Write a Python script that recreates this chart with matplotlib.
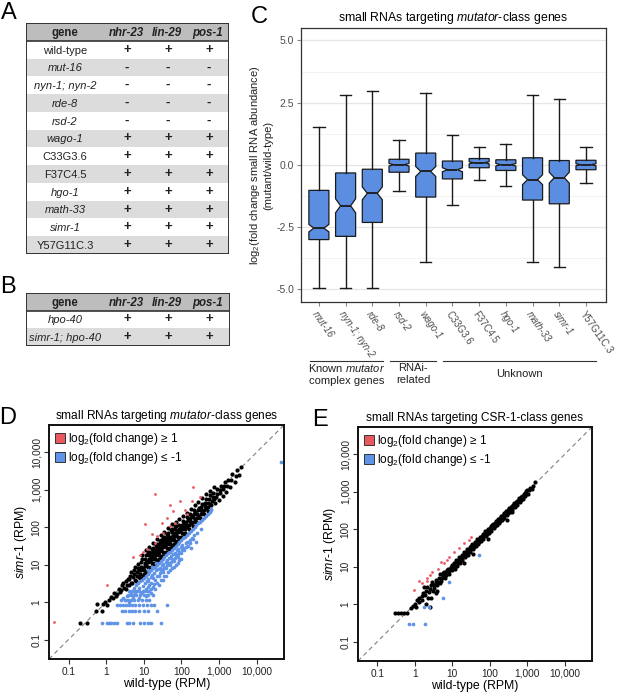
import matplotlib
matplotlib.use("Agg")
import matplotlib.pyplot as plt
from matplotlib.lines import Line2D
from matplotlib.patches import Rectangle

plt.rcParams['font.family'] = ['Liberation Sans', 'DejaVu Sans']
plt.rcParams['mathtext.fontset'] = 'custom'
plt.rcParams['mathtext.rm'] = 'Liberation Sans'
plt.rcParams['mathtext.it'] = 'Liberation Sans:italic'
plt.rcParams['mathtext.default'] = 'regular'

W, H = 617, 695

# ---- tables A and B
table_cols = ["nhr-23", "lin-29", "pos-1"]
table_a_genes = ["wild-type", "mut-16", "nyn-1; nyn-2", "rde-8", "rsd-2", "wago-1",
                 "C33G3.6", "F37C4.5", "hgo-1", "math-33", "simr-1", "Y57G11C.3"]
table_a_italic = [False, True, True, True, True, True, False, False, True, True, True, False]
table_a_calls = ["+", "-", "-", "-", "-", "+", "+", "+", "+", "+", "+", "+"]
table_b_genes = ["hpo-40", "simr-1; hpo-40"]
table_b_italic = [True, True]
table_b_calls = ["+", "+"]

# ---- panel C boxplot stats (log2 fold change)
box_names = ["mut-16", "nyn-1; nyn-2", "rde-8", "rsd-2", "wago-1", "C33G3.6",
             "F37C4.5", "hgo-1", "math-33", "simr-1", "Y57G11C.3"]
box_italic = [True, True, True, True, True, False, False, True, True, True, False]
box_whishi = [1.50, 2.80, 2.95, 1.00, 2.90, 1.20, 0.72, 0.82, 2.80, 2.65, 0.72]
box_q3 = [-1.03, -0.33, -0.18, 0.22, 0.47, 0.15, 0.25, 0.20, 0.28, 0.17, 0.18]
box_med = [-2.55, -1.65, -1.15, 0.00, -0.27, -0.20, 0.08, 0.00, -0.60, -0.52, 0.00]
box_q1 = [-3.01, -2.88, -2.32, -0.30, -1.30, -0.57, -0.12, -0.23, -1.42, -1.57, -0.20]
box_whislo = [-4.95, -4.97, -4.97, -1.05, -3.90, -1.60, -0.60, -0.85, -3.90, -4.10, -0.72]
box_notch = [0.15, 0.28, 0.26, 0.05, 0.20, 0.08, 0.04, 0.05, 0.20, 0.22, 0.04]

# ---- panel D points, log10 (wild-type RPM, simr-1 RPM)
d_black = [(-0.70,-0.55),(-0.52,-0.55),(-0.28,-0.25),(-0.25,-0.06),(-0.12,-0.25),(-0.08,-0.05),(-0.02,0.0),(0.02,-0.07),
    (0.08,0.05),(0.12,0.13),(0.18,0.10),(0.22,0.25),(0.26,0.16),(0.30,0.21),(0.33,0.36),(0.36,0.28),
    (0.40,0.31),(0.42,0.46),(0.45,0.50),(0.47,0.38),(0.52,0.36),(0.53,0.55),(0.55,0.46),(0.58,0.63),(0.60,0.45),
    (0.62,0.61),(0.63,0.71),(0.65,0.52),(0.67,0.81),(0.70,0.50),(0.71,0.66),(0.73,0.76),(0.74,0.86),(0.76,0.60),
    (0.77,0.95),(0.80,0.56),(0.81,0.71),(0.83,0.80),(0.84,0.91),(0.85,1.01),(0.87,0.66),(0.88,0.85),
    (0.90,0.64),(0.91,0.76),(0.92,0.86),(0.93,0.95),(0.94,1.06),(0.95,1.16),(0.97,0.71),(0.98,0.90),
    (1.00,0.75),(1.01,0.86),(1.02,0.96),(1.03,1.05),(1.04,1.16),(1.05,1.26),(1.06,0.81),(1.07,1.00),(1.08,1.11),
    (1.10,0.84),(1.11,0.95),(1.12,1.06),(1.13,1.15),(1.14,1.26),(1.15,1.35),(1.16,0.91),(1.17,1.10),(1.18,1.21),(1.19,1.31),
    (1.20,0.94),(1.21,1.05),(1.22,1.16),(1.23,1.25),(1.24,1.36),(1.25,1.45),(1.26,1.01),(1.27,1.20),(1.28,1.30),(1.29,1.41),
    (1.30,1.04),(1.31,1.15),(1.32,1.26),(1.33,1.35),(1.34,1.46),(1.35,1.55),(1.36,1.11),(1.37,1.30),(1.38,1.40),(1.39,1.51),
    (1.40,1.14),(1.41,1.25),(1.42,1.36),(1.43,1.45),(1.44,1.56),(1.45,1.65),(1.46,1.21),(1.47,1.40),(1.48,1.50),(1.49,1.61),
    (1.50,1.24),(1.51,1.35),(1.52,1.46),(1.53,1.55),(1.54,1.66),(1.55,1.75),(1.56,1.31),(1.57,1.50),(1.58,1.60),(1.59,1.71),
    (1.60,1.34),(1.61,1.45),(1.62,1.56),(1.63,1.65),(1.64,1.76),(1.65,1.85),(1.66,1.41),(1.67,1.60),(1.68,1.70),
    (1.70,1.44),(1.71,1.55),(1.72,1.66),(1.73,1.75),(1.74,1.86),(1.75,1.95),(1.76,1.51),(1.77,1.70),(1.78,1.80),
    (1.80,1.54),(1.81,1.65),(1.82,1.76),(1.83,1.85),(1.84,1.96),(1.85,2.02),(1.86,1.61),(1.87,1.80),(1.88,1.90),
    (1.90,1.64),(1.91,1.75),(1.92,1.86),(1.93,1.95),(1.94,2.06),(1.96,1.71),(1.97,1.90),(1.98,2.00),
    (2.00,1.74),(2.01,1.85),(2.02,1.96),(2.03,2.05),(2.04,2.16),(2.06,1.81),(2.07,2.00),(2.08,2.10),
    (2.10,1.84),(2.11,1.95),(2.12,2.06),(2.13,2.15),(2.14,2.26),(2.16,2.01),(2.17,2.20),
    (2.20,1.94),(2.21,2.05),(2.22,2.16),(2.23,2.25),(2.24,2.36),(2.26,2.11),(2.27,2.30),
    (2.30,2.04),(2.31,2.15),(2.32,2.26),(2.33,2.35),(2.34,2.46),(2.36,2.21),(2.37,2.40),
    (2.40,2.14),(2.41,2.25),(2.42,2.36),(2.43,2.45),(2.45,2.31),(2.46,2.51),
    (2.50,2.24),(2.51,2.35),(2.52,2.46),(2.53,2.55),(2.55,2.41),(2.56,2.61),
    (2.60,2.34),(2.61,2.45),(2.62,2.56),(2.63,2.65),(2.65,2.51),(2.66,2.76),
    (2.70,2.44),(2.71,2.55),(2.72,2.66),(2.73,2.75),(2.75,2.61),(2.76,2.86),
    (2.80,2.58),(2.81,2.70),(2.83,2.80),(2.84,2.91),(2.86,2.75),
    (2.90,2.64),(2.92,2.81),(2.94,2.90),(2.96,3.01),(3.00,2.74),(3.02,2.91),(3.04,3.00),(3.06,3.11),
    (3.10,2.84),(3.12,3.01),(3.14,3.10),(3.16,3.21),(3.20,2.95),(3.22,3.10),(3.25,3.26),
    (3.30,3.08),(3.33,3.25),(3.36,3.41),(3.42,3.20),(3.45,3.36),(3.48,3.52),(3.52,3.40),(3.58,3.62),
    (1.12,1.32),(1.22,1.42),(1.32,1.52),(1.42,1.62),(1.52,1.72),(1.62,1.82),(1.72,1.92),(1.82,2.02),
    (1.28,1.02),(1.38,1.12),(1.48,1.22),(1.58,1.32),(1.68,1.42),(1.78,1.52),(1.88,1.62),(1.98,1.72),
    (0.95,1.25),(1.05,1.38),(1.15,1.48),(1.25,1.58),(1.35,1.68),(1.45,1.78),(1.55,1.88),(1.65,1.98),
    (1.75,2.08),(1.85,2.15),(1.95,2.22),(2.05,2.30),(2.15,2.38),(2.25,2.48),(2.35,2.58),(2.45,2.68),
    (2.55,2.78),(2.65,2.88),(2.75,2.98),(2.88,3.08)]
d_red = [(-1.40,-0.54),(0.03,0.46),(0.72,1.21),(0.90,1.25),(0.99,1.35),(1.03,2.09),(1.08,1.41),(1.21,1.81),
    (1.30,2.90),(1.30,1.58),(1.34,1.76),(1.48,2.10),(1.52,1.85),(1.61,2.25),(1.70,2.60),(1.70,2.03),
    (1.79,2.43),(1.83,2.11),(1.96,2.69),(2.10,2.45),(2.14,2.34),(2.27,2.69),(2.30,3.07),(2.49,2.82)]
d_blue = [(0.45,0.10),(0.50,0.05),(0.55,0.15),(0.60,0.20),(0.62,0.0),(0.65,0.28),(0.70,0.30),(0.72,0.12),
    (0.75,0.38),(0.78,0.22),(0.80,0.45),(0.82,0.30),(0.85,0.50),(0.87,0.10),(0.88,0.38),(0.90,0.55),(0.92,0.25),
    (0.95,0.60),(0.97,0.42),(1.00,0.65),(1.00,0.30),(1.02,0.50),(1.05,0.70),(1.05,0.15),(1.08,0.55),(1.10,0.75),
    (1.10,0.40),(1.12,0.62),(1.15,0.80),(1.15,0.30),(1.18,0.68),(1.20,0.85),(1.20,0.50),(1.22,0.72),(1.25,0.90),
    (1.25,0.40),(1.28,0.78),(1.30,0.95),(1.30,0.60),(1.32,0.85),(1.35,1.00),(1.35,0.50),(1.38,0.88),(1.40,1.05),
    (1.40,0.70),(1.42,0.92),(1.45,1.10),(1.45,0.60),(1.48,0.98),(1.50,1.15),(1.50,0.80),(1.52,1.02),(1.55,1.20),
    (1.55,0.70),(1.58,1.08),(1.60,1.25),(1.60,0.90),(1.62,1.12),(1.65,1.30),(1.65,0.80),(1.68,1.18),(1.70,1.35),
    (1.70,1.00),(1.72,1.22),(1.75,1.40),(1.75,0.90),(1.78,1.28),(1.80,1.45),(1.80,1.10),(1.82,1.32),(1.85,1.50),
    (1.85,1.00),(1.88,1.38),(1.90,1.55),(1.90,1.20),(1.92,1.42),(1.95,1.60),(1.95,1.12),(1.98,1.48),(2.00,1.65),
    (2.00,1.30),(2.03,1.52),(2.05,1.70),(2.08,1.40),(2.10,1.75),(2.12,1.58),(2.15,1.80),(2.18,1.50),(2.20,1.85),
    (2.22,1.65),(2.25,1.90),(2.28,1.72),(2.30,1.95),(2.33,1.80),(2.35,2.00),(2.40,2.05),(2.42,1.85),(2.45,2.10),
    (2.50,2.15),(2.52,1.95),(2.55,2.20),(2.60,2.25),(2.65,2.30),(2.70,2.35),(2.75,2.40),(2.78,2.45),(2.80,2.48),
    (2.40,1.60),(2.25,1.45),(1.63,-0.07),(1.10,0.55),(1.15,0.45),(1.25,0.65),(1.35,0.70),(1.45,0.85),(1.30,0.35),
    (1.20,0.25),(1.40,0.45),(1.05,0.35),(0.95,0.28),(1.55,0.95),(1.65,1.05),(1.75,1.15),(1.85,1.25),(1.95,1.35),
    (2.05,1.45),(2.15,1.60),(1.50,0.60),(1.60,0.70),(1.70,0.85),(1.80,0.95),(1.90,1.05),(2.00,1.15),
    (1.12,0.85),(1.22,0.95),(1.32,1.05),(1.42,0.78),(1.52,0.88),(1.62,0.98),(1.72,1.08),(1.82,1.18),
    (1.92,1.28),(2.02,1.38),(2.12,1.48),(2.22,1.58),(2.32,1.68),(1.08,0.20),(1.18,0.35),(1.28,0.48),
    (-0.11,-0.55),(0.02,-0.55),(0.08,-0.55),(0.14,-0.55),(0.20,-0.55),(0.28,-0.55),(0.55,-0.55),(0.62,-0.55),
    (0.72,-0.55),(0.90,-0.55),(1.00,-0.55),(1.10,-0.55),(1.20,-0.55),(1.45,-0.55),
    (0.42,-0.25),(0.50,-0.25),(0.60,-0.25),(0.68,-0.25),(0.78,-0.25),(0.88,-0.25),(1.00,-0.25),(1.12,-0.25),(1.35,-0.25),
    (0.29,-0.07),(0.36,-0.07),(0.45,-0.07),(0.52,-0.07),(0.60,-0.07),(0.70,-0.07),(0.78,-0.07),(0.88,-0.07),
    (0.97,-0.07),(1.08,-0.07),(1.18,-0.07),(1.27,-0.07),
    (0.40,0.06),(0.50,0.06),(0.58,0.06),(0.66,0.06),(0.75,0.06),(0.85,0.06),(0.95,0.06),(1.05,0.06),(1.15,0.06),
    (0.58,0.19),(0.65,0.19),(0.72,0.19),(0.80,0.19),(0.90,0.19),(1.00,0.19),(1.10,0.19),(1.25,0.19),
    (0.62,0.30),(0.70,0.30),(0.78,0.30),(0.88,0.30),(0.98,0.30),(1.08,0.30),(4.66,3.75)]

# ---- panel E points, log10 (wild-type RPM, simr-1 RPM)
e_black = [(-0.54,-0.23),(-0.45,-0.25),(-0.38,-0.25),(-0.30,-0.25),(-0.22,-0.25),(-0.10,-0.10),(-0.05,-0.04),
    (0.00,0.00),(0.02,-0.07),(0.05,0.10),(0.10,0.05),(0.12,0.15),(0.18,0.10),(0.20,0.22),(0.22,0.30),(0.25,0.45),
    (0.28,0.25),(0.30,0.36),(0.32,0.45),(0.35,0.15),(0.38,0.32),(0.40,0.40),(0.42,0.50),(0.45,0.58),(0.47,0.35),
    (0.50,0.42),(0.52,0.50),(0.55,0.56),(0.56,0.65),(0.58,0.35),(0.60,0.50),(0.62,0.60),(0.64,0.70),(0.66,0.55),
    (0.68,0.80),(0.70,0.62),(0.72,0.70),(0.74,0.76),(0.76,0.82),(0.78,0.86),(0.80,0.70),(0.82,0.78),(0.84,0.86),
    (0.86,0.90),(0.88,0.95),(0.90,0.80),(0.92,0.88),(0.94,0.95),(0.96,1.00),(0.98,1.05),(0.30,0.00),(0.42,0.15),
    (0.55,0.30),(0.40,-0.07),
    (1.00,0.90),(1.01,0.97),(1.03,1.04),(1.04,1.10),(1.06,0.95),(1.08,1.03),(1.09,1.12),(1.11,1.18),(1.13,1.02),
    (1.15,1.10),(1.16,1.19),(1.18,1.25),(1.20,1.10),(1.22,1.18),(1.23,1.26),(1.25,1.32),(1.27,1.17),(1.29,1.25),
    (1.30,1.33),(1.32,1.39),(1.34,1.25),(1.36,1.32),(1.37,1.40),(1.39,1.46),(1.41,1.32),(1.43,1.39),(1.44,1.47),
    (1.46,1.53),(1.48,1.39),(1.50,1.46),(1.51,1.54),(1.53,1.60),(1.55,1.46),(1.57,1.53),(1.58,1.61),(1.60,1.67),
    (1.62,1.54),(1.64,1.60),(1.65,1.68),(1.67,1.73),(1.69,1.61),(1.71,1.67),(1.72,1.75),(1.74,1.80),(1.76,1.68),
    (1.78,1.74),(1.79,1.82),(1.81,1.87),(1.83,1.75),(1.85,1.81),(1.86,1.89),(1.88,1.94),(1.90,1.82),(1.92,1.88),
    (1.93,1.96),(1.95,2.01),(1.97,1.89),(1.99,1.95),(2.00,2.03),(2.02,2.08),(2.04,1.96),(2.06,2.02),(2.07,2.10),
    (2.09,2.14),(2.11,2.03),(2.13,2.09),(2.14,2.17),(2.16,2.21),(2.18,2.10),(2.20,2.16),(2.21,2.24),(2.23,2.28),
    (2.25,2.17),(2.27,2.23),(2.28,2.31),(2.30,2.35),(2.32,2.24),(2.34,2.30),(2.35,2.38),(2.37,2.42),(2.39,2.31),
    (2.41,2.37),(2.42,2.45),(2.44,2.49),(2.46,2.38),(2.48,2.44),(2.49,2.52),(2.51,2.56),(2.53,2.45),(2.55,2.51),
    (2.56,2.59),(2.58,2.62),(2.60,2.52),(2.62,2.58),(2.63,2.66),(2.65,2.69),(2.67,2.59),(2.69,2.65),(2.70,2.73),
    (2.72,2.76),(2.74,2.66),(2.76,2.72),(2.77,2.80),(2.79,2.83),(2.81,2.73),(2.83,2.79),(2.84,2.87),(2.86,2.90),
    (2.88,2.80),(2.90,2.86),(2.91,2.94),(2.93,2.97),(2.95,2.88),(2.97,2.93),(2.98,3.01),(3.00,3.04),(3.02,2.95),
    (3.05,3.05),(3.08,3.10),(3.12,3.08),(3.15,3.15),(3.20,3.26),(1.95,1.75),(1.55,1.35),(1.30,1.10),(2.60,2.45),(2.45,2.25)]
e_red = [(-0.02,0.37),(0.11,0.63),(0.20,0.55),(0.32,0.70),(0.33,0.63),(0.40,0.78),(0.45,0.85),(0.62,0.95),
    (0.69,1.12),(0.78,1.10),(0.85,1.18),(0.92,1.25),(1.05,1.38),(1.18,1.50),(1.31,1.62),(1.45,1.72),(1.50,1.80)]
e_blue = [(-0.17,-0.54),(-0.04,-0.54),(0.26,-0.54),(0.25,-0.07),(0.38,-0.07),(0.75,0.17),(0.91,0.58),(1.70,1.32)]

log_ticks = [0.1, 1, 10, 100, 1000, 10000]
log_tick_labels = ["0.1", "1", "10", "100", "1,000", "10,000"]

red = '#e8585e'
blue = '#5f93e8'
box_blue = '#5b8ee0'
grey_txt = '#4d4d4d'


def px_rect(l, t, r, b):
    return [l / W, 1 - b / H, (r - l) / W, (b - t) / H]


fig = plt.figure(figsize=(W / 100, H / 100), dpi=100)


def draw_table(box, genes, italic, calls):
    l, t, r, b = box
    ax = fig.add_axes(px_rect(l, t, r, b))
    n = len(genes) + 1
    ax.set_xlim(l, r)
    ax.set_ylim(n, 0)
    ax.axis('off')
    ax.add_patch(Rectangle((l, 0), r - l, 1, fc='#bdbdbd', ec='none'))
    for i in range(len(genes)):
        if i % 2 == 1:
            ax.add_patch(Rectangle((l, i + 1), r - l, 1, fc='#dcdcdc', ec='none'))
    ax.add_patch(Rectangle((l, 0), r - l, n, fc='none', ec='#333333', lw=1.4))
    ax.plot([l, r], [1, 1], color='#333333', lw=1.2)
    col_x = [65, 126, 167, 208]
    ax.text(col_x[0], 0.55, "gene", ha='center', va='center', fontsize=8.3, fontweight='bold', color='#222222')
    for cx, name in zip(col_x[1:], table_cols):
        ax.text(cx, 0.55, name, ha='center', va='center', fontsize=8.3, fontweight='bold',
                fontstyle='italic', color='#222222')
    for i, g in enumerate(genes):
        ax.text(col_x[0], i + 1.55, g, ha='center', va='center', fontsize=8,
                fontstyle='italic' if italic[i] else 'normal', color='#222222')
        for cx in col_x[1:]:
            ax.text(cx + 1, i + 1.5, calls[i], ha='center', va='center', fontsize=9.5,
                    fontweight='bold', color='#222222')


draw_table((26, 23, 229, 254), table_a_genes, table_a_italic, table_a_calls)
draw_table((26, 293, 230, 346), table_b_genes, table_b_italic, table_b_calls)

# ---- panel C
axc = fig.add_axes(px_rect(301, 28, 606, 302))
stats = []
for i in range(len(box_names)):
    stats.append(dict(med=box_med[i], q1=box_q1[i], q3=box_q3[i], whislo=box_whislo[i],
                      whishi=box_whishi[i], cilo=box_med[i] - box_notch[i],
                      cihi=box_med[i] + box_notch[i], fliers=[]))
positions = list(range(1, len(box_names) + 1))
bp = axc.bxp(stats, positions=positions, widths=0.75, shownotches=True, patch_artist=True,
             showfliers=False, capwidths=0.42,
             boxprops=dict(facecolor=box_blue, edgecolor='#1a1a1a', lw=0.9),
             medianprops=dict(color='#1a1a1a', lw=1.3),
             whiskerprops=dict(color='#1a1a1a', lw=1.0),
             capprops=dict(color='#1a1a1a', lw=1.0))
axc.set_xlim(0.33, len(box_names) + 0.75)
axc.set_ylim(-5.52, 5.5)
axc.set_yticks([-5, -2.5, 0, 2.5, 5])
axc.set_yticklabels(["-5.0", "-2.5", "0.0", "2.5", "5.0"], color=grey_txt, fontsize=7.5)
axc.set_yticks([-3.75, -1.25, 1.25, 3.75], minor=True)
axc.grid(True, which='major', axis='y', color='#e6e6e6', lw=0.9)
axc.grid(True, which='minor', axis='y', color='#f0f0f0', lw=0.6)
axc.set_axisbelow(True)
axc.tick_params(axis='both', which='major', color='#888888', length=3)
axc.tick_params(axis='y', which='minor', length=0)
axc.tick_params(axis='y', pad=2)
axc.set_xticks(positions)
axc.set_xticklabels(box_names, rotation=-55, ha='left', va='top', rotation_mode='anchor',
                    color=grey_txt, fontsize=6.9)
for lab, it in zip(axc.get_xticklabels(), box_italic):
    lab.set_fontstyle('italic' if it else 'normal')
axc.tick_params(axis='x', pad=2)
for s in axc.spines.values():
    s.set_color('#333333')
    s.set_linewidth(0.9)
axc.set_ylabel("log$_2$(fold change small RNA abundance)\n(mutant/wild-type)", fontsize=8,
               color='#222222', labelpad=2, linespacing=1.1)
axc.set_title("small RNAs targeting $\\mathit{mutator}$-class genes", fontsize=8.8, pad=5)

# group brackets under C
groups = [(310, 383, "Known $\\mathit{mutator}$\ncomplex genes"), (390, 436, "RNAi-\nrelated"),
          (443, 596, "Unknown")]
for x0, x1, txt in groups:
    fig.add_artist(Line2D([x0 / W, x1 / W], [1 - 361 / H, 1 - 361 / H], color='#333333', lw=0.8))
    fig.text((x0 + x1) / 2 / W, 1 - 374 / H, txt, ha='center', va='center', fontsize=8,
             linespacing=1.3, color='#222222')


# ---- panels D and E
def scatter_panel(box, title, black, reds, blues):
    ax = fig.add_axes(px_rect(*box))
    ax.set_xscale('log')
    ax.set_yscale('log')
    lo, hi = 10 ** -1.52, 10 ** 4.73
    ax.set_xlim(lo, hi)
    ax.set_ylim(lo, hi)
    ax.plot([lo, hi], [lo, hi], color='#808080', lw=0.8, dashes=(4, 3), zorder=1)
    for pts, c, s in [(black, 'black', 9), (reds, red, 4), (blues, blue, 7)]:
        xs = [10 ** p[0] for p in pts]
        ys = [10 ** p[1] for p in pts]
        ax.scatter(xs, ys, s=s, color=c, marker='o', linewidths=0, zorder=2, clip_on=False)
    ax.set_xticks(log_ticks)
    ax.set_xticklabels(log_tick_labels, fontsize=7.3, color='#222222')
    ax.set_yticks(log_ticks)
    ax.set_yticklabels(log_tick_labels, fontsize=7.3, color='#222222', rotation=90, va='center')
    ax.minorticks_off()
    ax.tick_params(direction='out', length=3.5, width=0.8, color='#333333', pad=2)
    for s in ax.spines.values():
        s.set_linewidth(1.4)
        s.set_color('#111111')
    ax.set_xlabel("wild-type (RPM)", fontsize=8.8, labelpad=1)
    ax.set_ylabel("$\\mathit{simr}$-$\\mathit{1}$ (RPM)", fontsize=8.8, labelpad=2)
    ax.set_title(title, fontsize=8.6, pad=4)
    handles = [Line2D([], [], marker='s', ls='none', markersize=6.5, markerfacecolor=red,
                      markeredgecolor='#333333', markeredgewidth=0.7),
               Line2D([], [], marker='s', ls='none', markersize=6.5, markerfacecolor=blue,
                      markeredgecolor='#333333', markeredgewidth=0.7)]
    ax.legend(handles, ["log$_2$(fold change) \u2265 1", "log$_2$(fold change) \u2264 -1"],
              loc='upper left', frameon=False, fontsize=8.5, handlelength=0.8, handletextpad=0.3,
              borderaxespad=0.3, labelspacing=0.25, borderpad=0.2)
    return ax


scatter_panel((49, 425, 284, 659), "small RNAs targeting $\\mathit{mutator}$-class genes",
              d_black, d_red, d_blue)
scatter_panel((358, 427, 592, 661), "small RNAs targeting CSR-1-class genes",
              e_black, e_red, e_blue)

# panel letters
for x, y, letter in [(9, 13, "A"), (8, 287, "B"), (259, 17, "C"), (8, 418, "D"), (320, 420, "E")]:
    fig.text(x / W, 1 - y / H, letter, fontsize=17, ha='center', va='center')

fig.savefig("out.png", dpi=100)
